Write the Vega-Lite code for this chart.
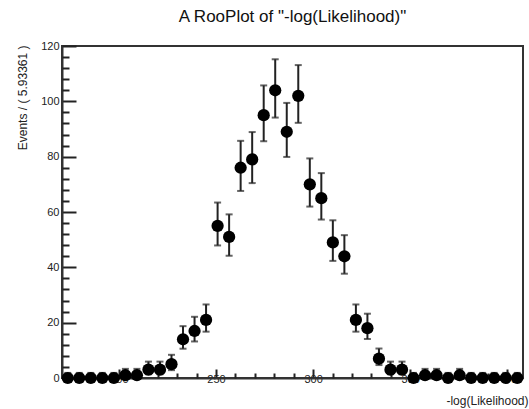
{
  "$schema": "https://vega.github.io/schema/vega-lite/v6.json",
  "width": 461,
  "height": 332,
  "autosize": {"type": "none"},
  "padding": {"left": 62, "top": 46, "right": 6, "bottom": 31},
  "background": "white",
  "title": {"text": "A RooPlot of \"-log(Likelihood)\"", "font": "Liberation Sans", "fontSize": 17, "fontWeight": "normal", "color": "#111", "offset": 14},
  "config": {
    "view": {"stroke": "#333", "strokeWidth": 2}
  },
  "data": {"values": [
    {"x": 173.67, "n": 0, "lo": 0, "hi": 1.84},
    {"x": 179.60, "n": 0, "lo": 0, "hi": 1.84},
    {"x": 185.53, "n": 0, "lo": 0, "hi": 1.84},
    {"x": 191.47, "n": 0, "lo": 0, "hi": 1.84},
    {"x": 197.40, "n": 0, "lo": 0, "hi": 1.84},
    {"x": 203.34, "n": 1, "lo": 0.17, "hi": 3.30},
    {"x": 209.27, "n": 1, "lo": 0.17, "hi": 3.30},
    {"x": 215.20, "n": 3, "lo": 1.37, "hi": 5.92},
    {"x": 221.14, "n": 3, "lo": 1.37, "hi": 5.92},
    {"x": 227.07, "n": 5, "lo": 2.84, "hi": 8.38},
    {"x": 233.00, "n": 14, "lo": 10.59, "hi": 18.74},
    {"x": 238.94, "n": 17, "lo": 13.21, "hi": 22.12},
    {"x": 244.87, "n": 21, "lo": 16.75, "hi": 26.58},
    {"x": 250.81, "n": 55, "lo": 47.91, "hi": 63.42},
    {"x": 256.74, "n": 51, "lo": 44.19, "hi": 59.14},
    {"x": 262.67, "n": 76, "lo": 67.61, "hi": 85.72},
    {"x": 268.61, "n": 79, "lo": 70.44, "hi": 88.89},
    {"x": 274.54, "n": 95, "lo": 85.58, "hi": 105.75},
    {"x": 280.47, "n": 104, "lo": 94.13, "hi": 115.20},
    {"x": 286.41, "n": 89, "lo": 79.90, "hi": 99.43},
    {"x": 292.34, "n": 102, "lo": 92.23, "hi": 113.10},
    {"x": 298.28, "n": 70, "lo": 61.96, "hi": 79.37},
    {"x": 304.21, "n": 65, "lo": 57.27, "hi": 74.06},
    {"x": 310.14, "n": 49, "lo": 42.33, "hi": 57.00},
    {"x": 316.08, "n": 44, "lo": 37.70, "hi": 51.63},
    {"x": 322.01, "n": 21, "lo": 16.75, "hi": 26.58},
    {"x": 327.94, "n": 18, "lo": 14.09, "hi": 23.24},
    {"x": 333.88, "n": 7, "lo": 4.68, "hi": 10.65},
    {"x": 339.81, "n": 3, "lo": 1.37, "hi": 5.92},
    {"x": 345.75, "n": 3, "lo": 1.37, "hi": 5.92},
    {"x": 351.68, "n": 0, "lo": 0, "hi": 1.84},
    {"x": 357.61, "n": 1, "lo": 0.17, "hi": 3.30},
    {"x": 363.55, "n": 1, "lo": 0.17, "hi": 3.30},
    {"x": 369.48, "n": 0, "lo": 0, "hi": 1.84},
    {"x": 375.41, "n": 1, "lo": 0.17, "hi": 3.30},
    {"x": 381.35, "n": 0, "lo": 0, "hi": 1.84},
    {"x": 387.28, "n": 0, "lo": 0, "hi": 1.84},
    {"x": 393.22, "n": 0, "lo": 0, "hi": 1.84},
    {"x": 399.15, "n": 0, "lo": 0, "hi": 1.84},
    {"x": 405.08, "n": 0, "lo": 0, "hi": 1.84}
  ]},
  "resolve": {"axis": {"x": "independent", "y": "independent"}, "scale": {"x": "shared", "y": "shared"}},
  "layer": [
    {
      "mark": {"type": "rule", "color": "#222", "strokeWidth": 2},
      "encoding": {
        "x": {"field": "x", "type": "quantitative", "scale": {"domain": [170.7, 408.04], "nice": false, "zero": false},
          "axis": {"orient": "bottom", "grid": false, "title": "-log(Likelihood)", "titleFont": "Liberation Sans", "titleFontSize": 12, "titleFontWeight": "normal", "titleColor": "#222", "titleAlign": "right", "titleX": 466, "titleY": 26, "titleBaseline": "alphabetic", "values": [200, 250, 300, 350, 400], "labelFont": "Liberation Sans", "labelFontSize": 11, "labelColor": "#222", "labelPadding": 4, "labelFlush": false, "domainColor": "#333", "domainWidth": 2, "tickColor": "#222", "tickWidth": 2, "tickSize": -9, "labelOffset": 0}},
        "y": {"field": "lo", "type": "quantitative", "scale": {"domain": [0, 120], "nice": false},
          "axis": {"orient": "left", "grid": false, "title": "Events / ( 5.93361 )", "titleFont": "Liberation Sans", "titleFontSize": 12, "titleFontWeight": "normal", "titleColor": "#222", "titleAlign": "right", "titleX": -36, "titleY": -1, "titleAngle": -90, "titleBaseline": "alphabetic", "values": [0, 20, 40, 60, 80, 100, 120], "labelFont": "Liberation Sans", "labelFontSize": 11, "labelColor": "#222", "labelPadding": 17, "domainColor": "#333", "domainWidth": 2, "tickColor": "#222", "tickWidth": 2, "tickSize": -14}},
        "y2": {"field": "hi"}
      }
    },
    {
      "transform": [{"fold": ["lo", "hi"], "as": ["end", "v"]}],
      "mark": {"type": "tick", "orient": "horizontal", "color": "#222", "thickness": 2, "size": 7},
      "encoding": {
        "x": {"field": "x", "type": "quantitative",
          "axis": {"orient": "bottom", "grid": false, "title": null, "labels": false, "domain": false, "values": [180, 190, 210, 220, 230, 240, 260, 270, 280, 290, 310, 320, 330, 340, 360, 370, 380, 390], "tickColor": "#222", "tickWidth": 2, "tickSize": -5}},
        "y": {"field": "v", "type": "quantitative",
          "axis": {"orient": "left", "grid": false, "title": null, "labels": false, "domain": false, "values": [4, 8, 12, 16, 24, 28, 32, 36, 44, 48, 52, 56, 64, 68, 72, 76, 84, 88, 92, 96, 104, 108, 112, 116], "tickColor": "#222", "tickWidth": 2, "tickSize": -7}}
      }
    },
    {
      "mark": {"type": "point", "filled": true, "shape": "circle", "color": "black", "opacity": 1, "size": 150},
      "encoding": {
        "x": {"field": "x", "type": "quantitative", "axis": null},
        "y": {"field": "n", "type": "quantitative", "axis": null}
      }
    }
  ]
}
